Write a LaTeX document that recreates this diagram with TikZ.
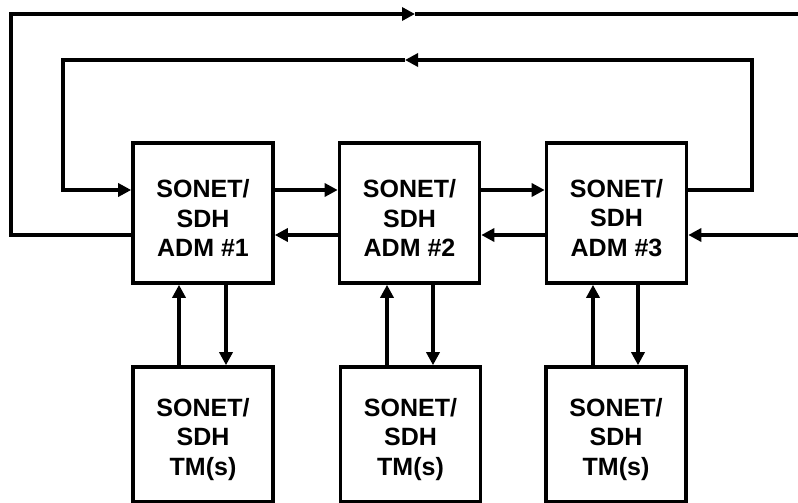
\documentclass[tikz,border=0pt]{standalone}
\usepackage{fontspec}
\setmainfont{Liberation Sans}
\usetikzlibrary{arrows.meta}
\begin{document}
\begin{tikzpicture}[x=1pt,y=-1pt,
  line width=3.6pt,
  box/.style={draw, rectangle, minimum width=140pt, minimum height=140pt, inner sep=0pt},
  tmbox/.style={box, minimum height=135pt},
  txt/.style={align=center, font=\fontsize{25}{29.5}\selectfont\bfseries, inner sep=0pt, yshift=-5pt},
  arr/.style={-{Triangle[length=13pt,width=13pt]}},
  line join=miter]
\useasboundingbox (0,0) rectangle (798,503);
\coordinate (hi) at (0,190);
\coordinate (lo) at (0,235);
\node[box, label={[txt]center:{SONET/\\SDH\\ADM \#1}}] (adm1) at (203,213) {};
\node[box, label={[txt]center:{SONET/\\SDH\\ADM \#2}}] (adm2) at (409.5,213) {};
\node[box, label={[txt]center:{SONET/\\SDH\\ADM \#3}}] (adm3) at (616.5,213) {};
\node[tmbox, label={[txt]center:{SONET/\\SDH\\TM(s)}}] (tm1) at (203,434.5) {};
\node[tmbox, label={[txt]center:{SONET/\\SDH\\TM(s)}}] (tm2) at (410.5,434.5) {};
\node[tmbox, label={[txt]center:{SONET/\\SDH\\TM(s)}}] (tm3) at (616,434.5) {};
% horizontal links
\draw[arr] (adm1.east |- hi) -- (adm2.west |- hi);
\draw[arr] (adm2.east |- hi) -- (adm3.west |- hi);
\draw[arr] (adm2.west |- lo) -- (adm1.east |- lo);
\draw[arr] (adm3.west |- lo) -- (adm2.east |- lo);
% vertical links
\coordinate (u1) at (179,0); \coordinate (d1) at (226,0);
\coordinate (u2) at (387,0); \coordinate (d2) at (433,0);
\coordinate (u3) at (593,0); \coordinate (d3) at (638,0);
\draw[arr] (tm1.north -| u1) -- (adm1.south -| u1);
\draw[arr] (adm1.south -| d1) -- (tm1.north -| d1);
\draw[arr] (tm2.north -| u2) -- (adm2.south -| u2);
\draw[arr] (adm2.south -| d2) -- (tm2.north -| d2);
\draw[arr] (tm3.north -| u3) -- (adm3.south -| u3);
\draw[arr] (adm3.south -| d3) -- (tm3.north -| d3);
% outer loop
\coordinate (otip) at (415,14);
\coordinate (oend) at (798,14);
\coordinate (rin) at (798,235);
\draw[arr] (adm1.west |- lo) -- (11,235) -- (11,14) -- (otip);
\draw (otip) -- (oend);
\draw[arr] (rin) -- (adm3.east |- lo);
% inner loop
\coordinate (itip) at (405,60);
\draw[arr] (adm3.east |- hi) -- (752,190) -- (752,60) -- (itip);
\draw[arr] (itip) -- (63,60) -- (63,190) -- (adm1.west |- hi);
\end{tikzpicture}
\end{document}
